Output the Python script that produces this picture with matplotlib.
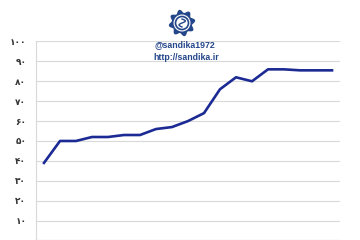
import numpy as np
import matplotlib.pyplot as plt
from matplotlib.patches import Polygon, Ellipse

# values (19 periods)
periods = list(range(1, 20))
values = [39, 50, 50, 52, 52, 53, 53, 56, 57, 60, 64, 76, 82, 80, 86, 86, 85.5, 85.5, 85.5]
yticks = [0, 10, 20, 30, 40, 50, 60, 70, 80, 90, 100]
ylabels = ['۰', '۱۰', '۲۰', '۳۰', '۴۰', '۵۰', '۶۰', '۷۰', '۸۰', '۹۰', '۱۰۰']
handle = '@sandika1972'
site = 'http://sandika.ir'

navy = '#1c2a94'
logo_blue = '#24468a'
grid = '#d9d9d9'

fig = plt.figure(figsize=(3.6, 2.4), dpi=100)
ax = fig.add_axes([36 / 360, -0.002, 304 / 360, 199 / 240])

x = np.arange(len(values))
ax.plot(x, values, color=navy, lw=1.9, solid_joinstyle='round', zorder=3)

ax.set_xlim(-0.5, len(values) - 0.5)
ax.set_ylim(0, 100)
ax.set_yticks(yticks)
ax.set_yticklabels(ylabels, fontsize=6.5, fontweight='bold', color='#333333',
                   family='DejaVu Sans')
ax.yaxis.grid(True, color=grid, lw=0.8)
ax.set_axisbelow(True)
ax.tick_params(axis='y', length=0, pad=7)
ax.set_xticks(np.arange(len(values) + 1) - 0.5)
ax.set_xticklabels([])
ax.tick_params(axis='x', length=2, color=grid)
for s in ['top', 'right']:
    ax.spines[s].set_visible(False)
for s in ['left', 'bottom']:
    ax.spines[s].set_color(grid)
    ax.spines[s].set_linewidth(0.8)

# logo: star-shaped emblem, coordinates in pixels converted to figure fraction
W, H = 360, 240
cx, cy = 182, 23
n = 8
ang = np.linspace(0, 2 * np.pi, 200, endpoint=False)
rad = 11.8 + 1.6 * np.cos(ang * n + np.pi / 2)
pts = np.c_[(cx + rad * np.cos(ang)) / W, 1 - (cy + rad * np.sin(ang)) / H]
fig.add_artist(Polygon(pts, closed=True, transform=fig.transFigure,
                       facecolor=logo_blue, edgecolor='none'))
fig.add_artist(Ellipse((cx / W, 1 - cy / H), 2 * 8.5 / W, 2 * 8.5 / H,
                       transform=fig.transFigure, facecolor='white', edgecolor='none'))
fig.add_artist(Ellipse((cx / W, 1 - cy / H), 2 * 6.5 / W, 2 * 6.5 / H,
                       transform=fig.transFigure, facecolor='none',
                       edgecolor=logo_blue, lw=1.2))
# S-like stroke inside the ring
t = np.linspace(0, 1, 30)
sx = cx + 3.5 * np.sin(2 * np.pi * t) * (1 - t * 0.2)
sy = cy - 4 + 8 * t
fig.add_artist(plt.Line2D(sx / W, 1 - sy / H, transform=fig.transFigure,
                          color=logo_blue, lw=1.0))

fig.text(185 / W, 1 - 45 / H, handle, ha='center', va='center', fontsize=6.3,
         fontweight='bold', color=logo_blue, family='Liberation Sans')
fig.text(186 / W, 1 - 57 / H, site, ha='center', va='center', fontsize=6.3,
         fontweight='bold', color=logo_blue, family='Liberation Sans')

fig.savefig('out.png', dpi=100, facecolor='white')
